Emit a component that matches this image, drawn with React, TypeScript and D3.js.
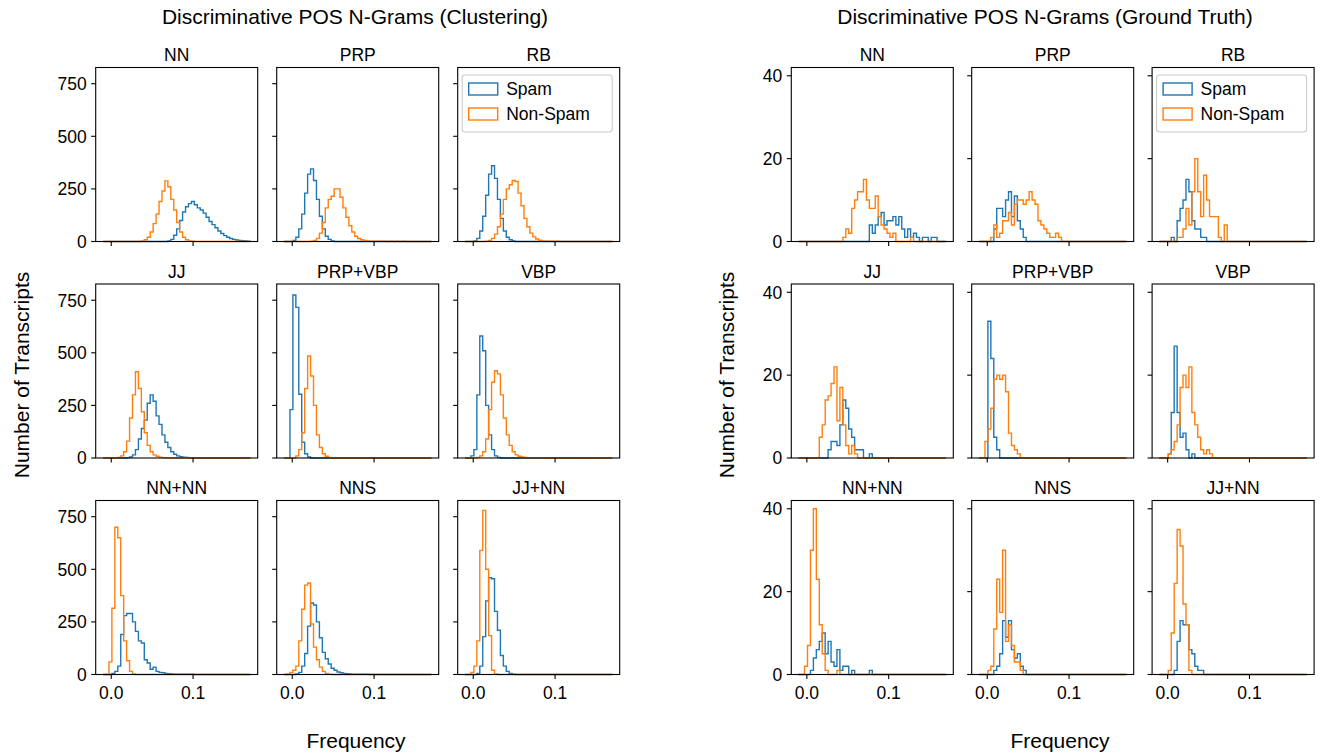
import React from 'react';
import * as d3 from 'd3';

// panel order: row by row
const tags = ['NN', 'PRP', 'RB', 'JJ', 'PRP+VBP', 'VBP', 'NN+NN', 'NNS', 'JJ+NN'];

// every histogram uses the same 50 bins
const binStart = -0.01;
const binWidth = 0.0036;
const binCount = 50;

const xTicks = [0.0, 0.1];

// clustering labels: index of first non-empty bin, then the counts
const clusterSpamStart = [22, 3, 3, 8, 2, 2, 3, 4, 4];
const clusterSpam = [
  [3, 10, 30, 60, 100, 140, 165, 180, 190, 175, 160, 150, 135, 115, 95, 80, 65, 50, 38, 28, 20, 14, 10, 7, 5, 4, 3, 2],
  [5, 20, 60, 130, 230, 320, 345, 290, 200, 120, 60, 25, 10, 3],
  [3, 15, 50, 120, 220, 320, 360, 300, 200, 110, 50, 20, 8, 3],
  [2, 5, 15, 40, 90, 140, 180, 260, 300, 270, 200, 160, 110, 75, 50, 30, 18, 10, 6, 4, 3, 2, 1, 1, 1, 1],
  [230, 775, 716, 303, 75, 20, 5],
  [10, 40, 300, 580, 510, 250, 110, 40, 10, 3],
  [5, 15, 40, 190, 280, 290, 290, 250, 205, 160, 150, 70, 55, 25, 35, 15, 10, 8, 5, 4, 3, 2, 2, 1, 1, 1, 1, 1],
  [3, 10, 40, 100, 230, 340, 330, 250, 175, 105, 75, 50, 30, 20, 12, 8, 5, 4, 3, 2, 2, 1, 1, 1, 1],
  [5, 40, 180, 350, 460, 455, 300, 210, 90, 40, 15, 5, 2],
];
const clusterNonSpamStart = [13, 9, 7, 5, 4, 4, 2, 1, 2];
const clusterNonSpam = [
  [3, 8, 20, 45, 85, 130, 190, 240, 288, 260, 200, 150, 90, 45, 20, 8, 3, 1],
  [2, 5, 15, 40, 90, 160, 200, 215, 250, 250, 210, 160, 115, 75, 45, 25, 14, 8, 5, 3, 2, 2, 1, 1, 1, 1, 0, 1, 0, 1, 0, 1],
  [2, 5, 15, 35, 70, 130, 200, 250, 270, 290, 285, 230, 170, 110, 70, 40, 22, 12, 6, 3, 2, 1, 1, 0, 1],
  [3, 10, 30, 80, 190, 300, 410, 330, 220, 120, 60, 30, 15, 8, 4, 2, 1, 1],
  [10, 40, 120, 330, 485, 390, 250, 110, 50, 20, 8, 3, 1],
  [3, 10, 30, 90, 230, 360, 415, 400, 300, 190, 110, 60, 30, 15, 8, 5, 3, 2, 2, 1, 1, 1, 1, 0, 1, 0, 0, 1, 0, 0, 1, 0, 0, 0, 1, 0, 1],
  [60, 315, 700, 650, 375, 160, 65, 15, 3],
  [3, 10, 20, 40, 160, 310, 425, 435, 240, 130, 70, 35, 15, 5, 2],
  [10, 40, 160, 590, 780, 500, 185, 20, 3],
];

// ground truth labels
const truthSpamStart = [24, 5, 4, 10, 3, 3, 4, 5, 5];
const truthSpam = [
  [4, 2, 4, 6, 7, 4, 5, 5, 6, 4, 6, 3, 1, 3, 1, 2, 1, 0, 1, 1, 0, 1, 1],
  [3, 8, 8, 6, 10, 12, 6, 11, 5, 3, 1],
  [1, 0, 5, 8, 10, 15, 12, 5, 3, 3, 1, 1],
  [2, 4, 4, 3, 8, 14, 12, 7, 5, 2, 2, 2, 0, 0, 1],
  [33, 24, 5, 2],
  [1, 11, 27, 11, 5, 6, 2, 0, 1],
  [1, 4, 6, 8, 10, 5, 8, 3, 2, 6, 1, 2, 2, 0, 1, 0, 0, 0, 0, 0, 1],
  [1, 2, 5, 13, 9, 13, 6, 4, 5, 2, 1],
  [1, 8, 13, 12, 12, 6, 5, 2, 1, 1],
];
const truthNonSpamStart = [15, 4, 6, 7, 2, 3, 2, 3, 3];
const truthNonSpam = [
  [1, 3, 2, 8, 10, 12, 12, 15, 10, 8, 8, 11, 6, 4, 3, 2, 1, 2, 0, 0, 0, 0, 0, 1],
  [1, 4, 1, 2, 5, 5, 7, 4, 9, 10, 10, 9, 10, 12, 10, 9, 5, 4, 3, 2, 1, 1, 2, 1],
  [1, 1, 3, 8, 4, 12, 20, 12, 6, 16, 10, 6, 6, 6, 1, 0, 4],
  [5, 8, 14, 15, 18, 22, 9, 17, 8, 3, 1, 3, 1],
  [4, 7, 12, 19, 20, 19, 20, 16, 6, 3, 2, 1],
  [1, 2, 4, 8, 17, 20, 17, 22, 11, 8, 5, 2, 1, 2, 1],
  [2, 7, 30, 40, 23, 12, 5, 1, 0, 0, 0, 1],
  [1, 2, 11, 23, 15, 30, 8, 12, 7, 3, 3, 1],
  [1, 10, 22, 35, 31, 17, 12, 1],
];

const SPAM = '#1f77b4';
const NONSPAM = '#ff7f0e';
const FONT = "'Liberation Sans', Arial, Helvetica, sans-serif";
const FS = 17.5;
const BIG = 21;

const panelW = 162;
const panelH = 174;
const rowTops = [67.5, 284, 500.5];
const edges = d3.range(binCount + 1).map((k) => binStart + k * binWidth);

// pad the sparse counts out to the full set of bins
function fullCounts(start: number, counts: number[]) {
  const out = new Array(binCount).fill(0);
  counts.forEach((c, i) => {
    out[start + i] = c;
  });
  return out;
}

function stepPath(x: d3.ScaleLinear<number, number>, y: d3.ScaleLinear<number, number>, counts: number[]) {
  const pts: [number, number][] = [[edges[0], 0]];
  counts.forEach((c, i) => pts.push([edges[i], c]));
  pts.push([edges[binCount], 0]);
  return d3
    .line<[number, number]>()
    .x((d) => x(d[0]))
    .y((d) => y(d[1]))
    .curve(d3.curveStepAfter)(pts) as string;
}

function Figure({ colLefts, title, titleX, ylabelX, xlabelX, yMax, yTicks, spam, spamStart, non, nonStart }: any) {
  return (
    <g fontFamily={FONT}>
      <text x={titleX} y={24} textAnchor="middle" fontSize={BIG}>{title}</text>
      <text transform={`translate(${ylabelX},${375}) rotate(-90)`} textAnchor="middle" fontSize={BIG}>
        Number of Transcripts
      </text>
      <text x={xlabelX} y={748} textAnchor="middle" fontSize={BIG}>Frequency</text>
      {tags.map((tag, i) => {
        const r = Math.floor(i / 3);
        const c = i % 3;
        const left = colLefts[c];
        const top = rowTops[r];
        const x = d3.scaleLinear().domain([-0.019, 0.179]).range([left, left + panelW]);
        const y = d3.scaleLinear().domain([0, yMax]).range([top + panelH, top]);
        const bottom = top + panelH;
        return (
          <g key={tag}>
            <text x={left + panelW / 2} y={top - 6.5} textAnchor="middle" fontSize={FS}>{tag}</text>
            <path d={stepPath(x, y, fullCounts(spamStart[i], spam[i]))} fill="none" stroke={SPAM} strokeWidth={1.4} />
            <path d={stepPath(x, y, fullCounts(nonStart[i], non[i]))} fill="none" stroke={NONSPAM} strokeWidth={1.4} />
            <rect x={left} y={top} width={panelW} height={panelH} fill="none" stroke="#000" strokeWidth={1.1} />
            {yTicks.map((t: number) => (
              <g key={t}>
                <line x1={left - 4.5} x2={left} y1={y(t)} y2={y(t)} stroke="#000" strokeWidth={1.1} />
                {c === 0 && (
                  <text x={left - 9} y={y(t)} dy="0.36em" textAnchor="end" fontSize={FS}>{t}</text>
                )}
              </g>
            ))}
            {xTicks.map((t) => (
              <g key={t}>
                <line x1={x(t)} x2={x(t)} y1={bottom} y2={bottom + 4.5} stroke="#000" strokeWidth={1.1} />
                {r === 2 && (
                  <text x={x(t)} y={bottom + 24} textAnchor="middle" fontSize={FS}>{d3.format('.1f')(t)}</text>
                )}
              </g>
            ))}
            {i === 2 && (
              <g transform={`translate(${left + 4.5},${top + 7.5})`}>
                <rect x={0} y={0} width={150} height={57} rx={3} fill="#fff" fillOpacity={0.8} stroke="#ccc" strokeWidth={1.1} />
                <rect x={6.5} y={8} width={29} height={12} fill="none" stroke={SPAM} strokeWidth={1.4} />
                <text x={44} y={20} fontSize={FS}>Spam</text>
                <rect x={6.5} y={33} width={29} height={12} fill="none" stroke={NONSPAM} strokeWidth={1.4} />
                <text x={44} y={45} fontSize={FS}>Non-Spam</text>
              </g>
            )}
          </g>
        );
      })}
    </g>
  );
}

export default function App() {
  return (
    <svg width={1326} height={754} style={{ position: 'absolute', left: 0, top: 0, background: '#fff' }}>
      <Figure
        colLefts={[95.7, 276.7, 457.7]}
        title="Discriminative POS N-Grams (Clustering)"
        titleX={355}
        ylabelX={29}
        xlabelX={356}
        yMax={827}
        yTicks={[0, 250, 500, 750]}
        spam={clusterSpam}
        spamStart={clusterSpamStart}
        non={clusterNonSpam}
        nonStart={clusterNonSpamStart}
      />
      <Figure
        colLefts={[791.3, 971.7, 1152.1]}
        title="Discriminative POS N-Grams (Ground Truth)"
        titleX={1045}
        ylabelX={734}
        xlabelX={1060}
        yMax={42}
        yTicks={[0, 20, 40]}
        spam={truthSpam}
        spamStart={truthSpamStart}
        non={truthNonSpam}
        nonStart={truthNonSpamStart}
      />
    </svg>
  );
}
